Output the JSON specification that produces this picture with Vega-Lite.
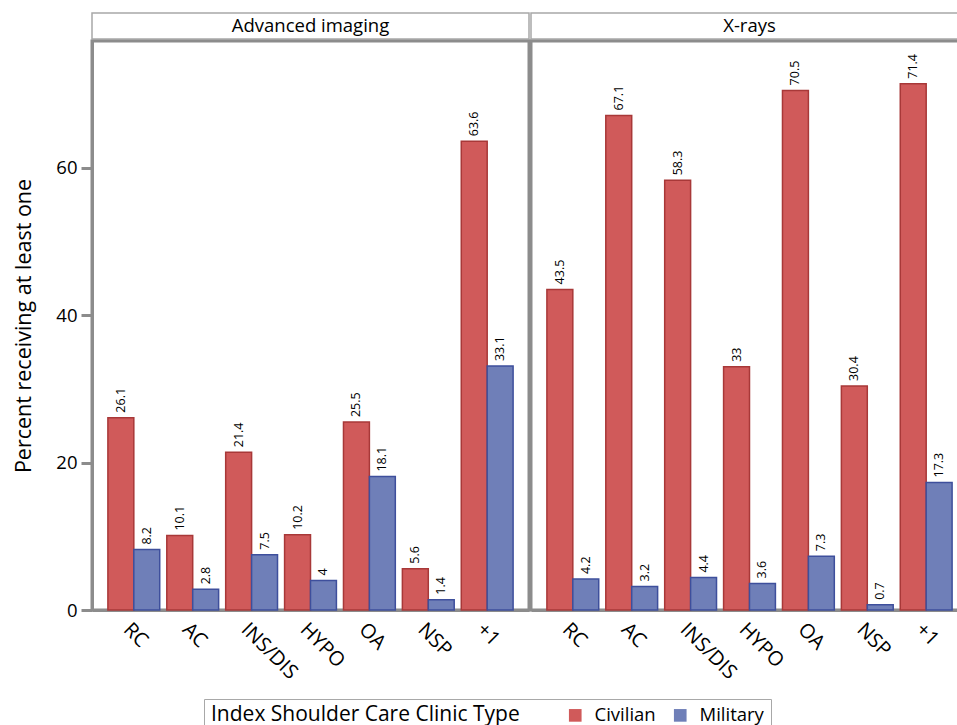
{
  "$schema": "https://vega.github.io/schema/vega-lite/v6.json",
  "padding": {"left": 12, "top": 12, "right": 0, "bottom": 0},
  "config": {
    "font": "Open Sans",
    "view": {"stroke": "#8c8c8c", "strokeWidth": 3}
  },
  "data": {
    "values": [
      {"panel": "Advanced imaging", "group": "RC", "type": "Civilian", "value": 26.1},
      {"panel": "Advanced imaging", "group": "AC", "type": "Civilian", "value": 10.1},
      {"panel": "Advanced imaging", "group": "INS/DIS", "type": "Civilian", "value": 21.4},
      {"panel": "Advanced imaging", "group": "HYPO", "type": "Civilian", "value": 10.2},
      {"panel": "Advanced imaging", "group": "OA", "type": "Civilian", "value": 25.5},
      {"panel": "Advanced imaging", "group": "NSP", "type": "Civilian", "value": 5.6},
      {"panel": "Advanced imaging", "group": "+1", "type": "Civilian", "value": 63.6},
      {"panel": "Advanced imaging", "group": "RC", "type": "Military", "value": 8.2},
      {"panel": "Advanced imaging", "group": "AC", "type": "Military", "value": 2.8},
      {"panel": "Advanced imaging", "group": "INS/DIS", "type": "Military", "value": 7.5},
      {"panel": "Advanced imaging", "group": "HYPO", "type": "Military", "value": 4},
      {"panel": "Advanced imaging", "group": "OA", "type": "Military", "value": 18.1},
      {"panel": "Advanced imaging", "group": "NSP", "type": "Military", "value": 1.4},
      {"panel": "Advanced imaging", "group": "+1", "type": "Military", "value": 33.1},
      {"panel": "X-rays", "group": "RC", "type": "Civilian", "value": 43.5},
      {"panel": "X-rays", "group": "AC", "type": "Civilian", "value": 67.1},
      {"panel": "X-rays", "group": "INS/DIS", "type": "Civilian", "value": 58.3},
      {"panel": "X-rays", "group": "HYPO", "type": "Civilian", "value": 33},
      {"panel": "X-rays", "group": "OA", "type": "Civilian", "value": 70.5},
      {"panel": "X-rays", "group": "NSP", "type": "Civilian", "value": 30.4},
      {"panel": "X-rays", "group": "+1", "type": "Civilian", "value": 71.4},
      {"panel": "X-rays", "group": "RC", "type": "Military", "value": 4.2},
      {"panel": "X-rays", "group": "AC", "type": "Military", "value": 3.2},
      {"panel": "X-rays", "group": "INS/DIS", "type": "Military", "value": 4.4},
      {"panel": "X-rays", "group": "HYPO", "type": "Military", "value": 3.6},
      {"panel": "X-rays", "group": "OA", "type": "Military", "value": 7.3},
      {"panel": "X-rays", "group": "NSP", "type": "Military", "value": 0.7},
      {"panel": "X-rays", "group": "+1", "type": "Military", "value": 17.3}
    ]
  },
  "bounds": "flush",
  "columns": 2,
  "spacing": {"row": 2, "column": 2},
  "concat": [
    {
      "width": 437,
      "height": 26,
      "view": {"stroke": "#a8a8a8", "strokeWidth": 1.5},
      "transform": [{"filter": "datum.panel === 'Advanced imaging' && datum.group === 'RC' && datum.type === 'Civilian'"}],
      "mark": {"type": "text", "fontSize": 18.5, "color": "black", "baseline": "middle"},
      "encoding": {"text": {"field": "panel", "type": "nominal"}}
    },
    {
      "width": 437,
      "height": 26,
      "view": {"stroke": "#a8a8a8", "strokeWidth": 1.5},
      "transform": [{"filter": "datum.panel === 'X-rays' && datum.group === 'RC' && datum.type === 'Civilian'"}],
      "mark": {"type": "text", "fontSize": 18.5, "color": "black", "baseline": "middle"},
      "encoding": {"text": {"field": "panel", "type": "nominal"}}
    },
    {
      "width": 437,
      "height": 569,
      "transform": [{"filter": "datum.panel === 'Advanced imaging'"}],
      "encoding": {
        "x": {
          "field": "group",
          "type": "nominal",
          "sort": ["RC", "AC", "INS/DIS", "HYPO", "OA", "NSP", "+1"],
          "scale": {"paddingInner": 0.12, "paddingOuter": 0.27},
          "axis": {
            "title": null,
            "labelAngle": 45,
            "labelAlign": "left",
            "labelBaseline": "top",
            "labelFontSize": 20,
            "labelColor": "black",
            "labelPadding": 9,
            "ticks": false,
            "domainColor": "#8c8c8c",
            "domainWidth": 3
          }
        },
        "xOffset": {"field": "type", "type": "nominal", "sort": ["Civilian", "Military"]},
        "y": {
          "field": "value",
          "type": "quantitative",
          "scale": {"domain": [0, 77.2], "nice": false},
          "axis": {
            "title": "Percent receiving at least one",
            "titleFontSize": 21.5,
            "titleFontWeight": "normal",
            "titleColor": "black",
            "titlePadding": 20,
            "values": [0, 20, 40, 60],
            "grid": false,
            "labelFontSize": 18.5,
            "labelColor": "black",
            "labelPadding": 4,
            "tickSize": 11,
            "tickWidth": 3,
            "tickColor": "#8c8c8c",
            "domainColor": "#8c8c8c",
            "domainWidth": 3
          }
        }
      },
      "layer": [
        {
          "mark": {"type": "bar", "strokeWidth": 1.5},
          "encoding": {
            "color": {
              "field": "type",
              "type": "nominal",
              "scale": {"domain": ["Civilian", "Military"], "range": ["#d05a5a", "#6f7fb8"]},
              "legend": {
                "title": "Index Shoulder Care Clinic Type",
                "orient": "none",
                "legendX": 112,
                "legendY": 686,
                "direction": "horizontal",
                "titleOrient": "left",
                "titleFontSize": 21,
                "titleFontWeight": "normal",
                "titleColor": "black",
                "titleLimit": 600,
                "titlePadding": 46,
                "labelFontSize": 18.5,
                "labelColor": "black",
                "labelOffset": 10,
                "symbolType": "square",
                "symbolSize": 160,
                "symbolStrokeWidth": 0,
                "columnPadding": 15,
                "strokeColor": "#a8a8a8",
                "padding": 7
              }
            },
            "stroke": {
              "field": "type",
              "type": "nominal",
              "scale": {"domain": ["Civilian", "Military"], "range": ["#a83838", "#3e4f9c"]},
              "legend": null
            }
          }
        },
        {
          "mark": {"type": "text", "angle": -90, "align": "left", "baseline": "middle", "dx": 5, "fontSize": 12.5, "color": "black"},
          "encoding": {"text": {"field": "value", "type": "nominal"}}
        }
      ]
    },
    {
      "width": 437,
      "height": 569,
      "transform": [{"filter": "datum.panel === 'X-rays'"}],
      "encoding": {
        "x": {
          "field": "group",
          "type": "nominal",
          "sort": ["RC", "AC", "INS/DIS", "HYPO", "OA", "NSP", "+1"],
          "scale": {"paddingInner": 0.12, "paddingOuter": 0.27},
          "axis": {
            "title": null,
            "labelAngle": 45,
            "labelAlign": "left",
            "labelBaseline": "top",
            "labelFontSize": 20,
            "labelColor": "black",
            "labelPadding": 9,
            "ticks": false,
            "domainColor": "#8c8c8c",
            "domainWidth": 3
          }
        },
        "xOffset": {"field": "type", "type": "nominal", "sort": ["Civilian", "Military"]},
        "y": {
          "field": "value",
          "type": "quantitative",
          "scale": {"domain": [0, 77.2], "nice": false},
          "axis": null
        }
      },
      "layer": [
        {
          "mark": {"type": "bar", "strokeWidth": 1.5},
          "encoding": {
            "color": {
              "field": "type",
              "type": "nominal",
              "scale": {"domain": ["Civilian", "Military"], "range": ["#d05a5a", "#6f7fb8"]},
              "legend": {
                "title": "Index Shoulder Care Clinic Type",
                "orient": "none",
                "legendX": 112,
                "legendY": 686,
                "direction": "horizontal",
                "titleOrient": "left",
                "titleFontSize": 21,
                "titleFontWeight": "normal",
                "titleColor": "black",
                "titleLimit": 600,
                "titlePadding": 46,
                "labelFontSize": 18.5,
                "labelColor": "black",
                "labelOffset": 10,
                "symbolType": "square",
                "symbolSize": 160,
                "symbolStrokeWidth": 0,
                "columnPadding": 15,
                "strokeColor": "#a8a8a8",
                "padding": 7
              }
            },
            "stroke": {
              "field": "type",
              "type": "nominal",
              "scale": {"domain": ["Civilian", "Military"], "range": ["#a83838", "#3e4f9c"]},
              "legend": null
            }
          }
        },
        {
          "mark": {"type": "text", "angle": -90, "align": "left", "baseline": "middle", "dx": 5, "fontSize": 12.5, "color": "black"},
          "encoding": {"text": {"field": "value", "type": "nominal"}}
        }
      ]
    }
  ]
}
